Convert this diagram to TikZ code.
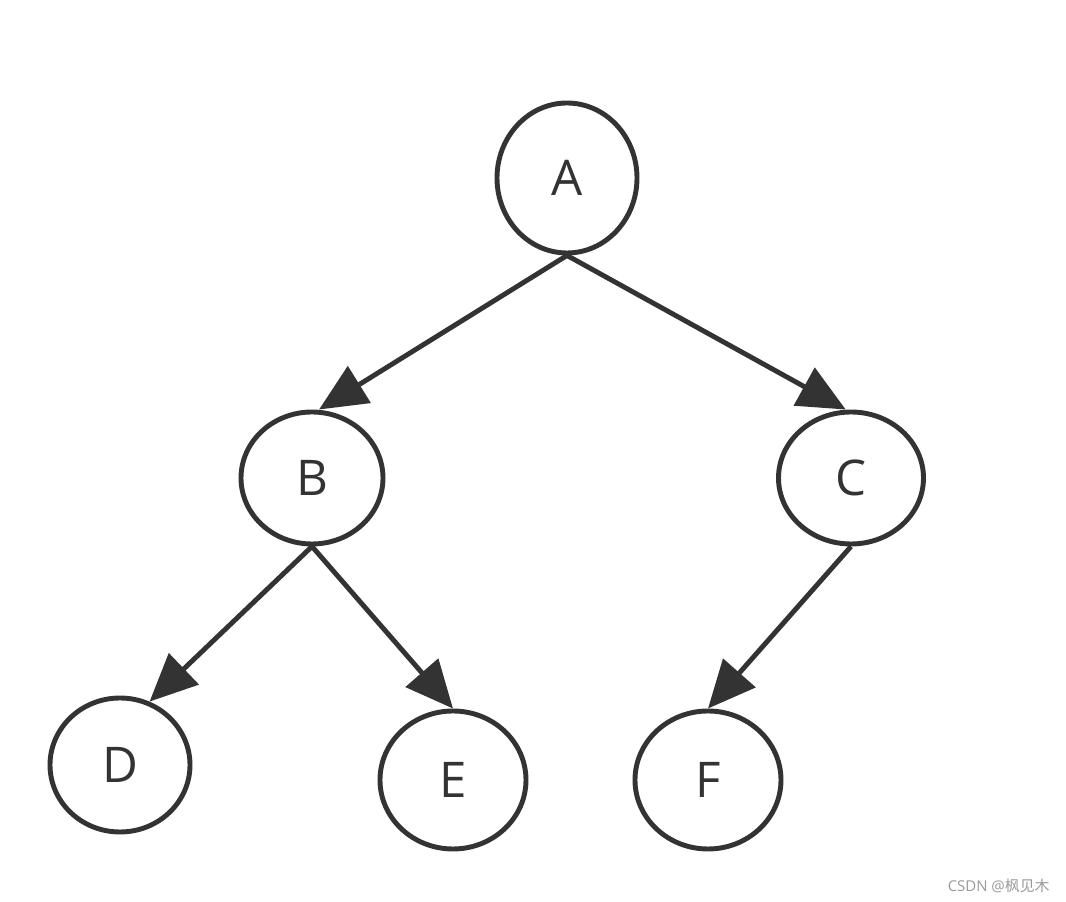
\documentclass[tikz,border=0pt]{standalone}
\usepackage{fontspec}
\setmainfont{Open Sans}
\newfontfamily\cjk{Noto Sans CJK SC}
\usepackage{tikz}
\usetikzlibrary{shapes.geometric,arrows.meta,positioning}
\definecolor{ink}{HTML}{333333}
\definecolor{mark}{HTML}{9A9A9A}

\begin{document}
\begin{tikzpicture}[font=\fontsize{28}{32}\selectfont,
  vertex/.style={ellipse,draw=ink,line width=2.8pt,text=ink,inner sep=0pt},
  link/.style={draw=ink,line width=2.8pt,-{Triangle[length=0.95cm,width=0.85cm]}}]
\useasboundingbox (0,0) rectangle (21.32,18.04);
\node[vertex,minimum width=2.8cm,minimum height=3.0cm] (A) at (11.34,14.48) {A};
\node[vertex,minimum width=2.84cm,minimum height=2.64cm] (B) at (6.24,8.48) {B};
\node[vertex,minimum width=2.9cm,minimum height=2.64cm] (C) at (17.02,8.48) {C};
\node[vertex,minimum width=2.8cm,minimum height=2.68cm] (D) at (2.40,2.74) {D};
\node[vertex,minimum width=2.92cm,minimum height=2.76cm] (E) at (9.06,2.44) {E};
\node[vertex,minimum width=2.92cm,minimum height=2.76cm] (F) at (14.16,2.44) {F};
% edges
\draw[link] (A.south) -- ([xshift=4pt]B.north);
\draw[link] (A.south) -- ([xshift=-3pt]C.north);
\draw[link] (B.south) -- (D.65);
\draw[link] (B.south) -- (E.north);
\draw[link] (C.south) -- (F.north);
% watermark
\node[anchor=east,inner sep=0pt,text=mark,font=\fontsize{8.5}{10}\selectfont] (wm) at (21.0,0.32) {CSDN @{\cjk 枫见木}};
\end{tikzpicture}
\end{document}
